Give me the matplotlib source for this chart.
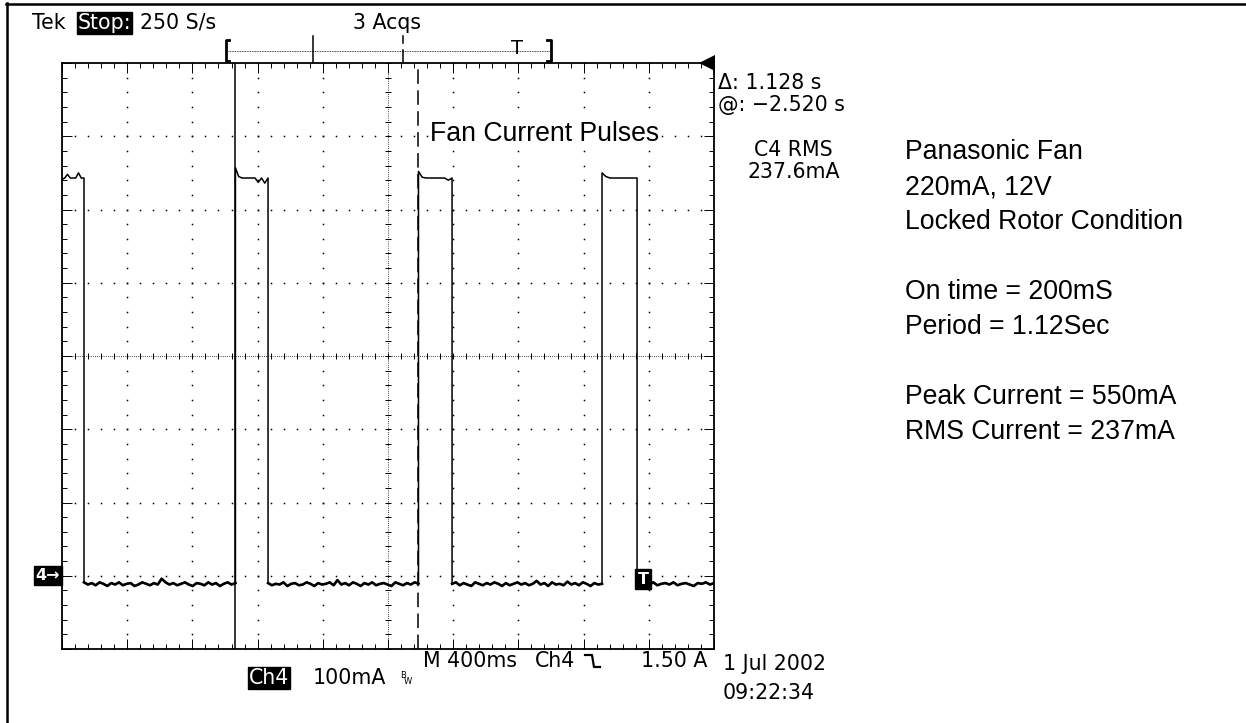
import matplotlib
matplotlib.use("Agg")
import matplotlib.pyplot as plt
import numpy as np

# pulse edges, seconds from the left edge of the screen (400 ms/div, 10 div)
fall_t = [0.135, 1.264, 2.393, 3.528]
rise_t = [1.064, 2.187, 3.313]
screen_end = 4.0

# high part of each pulse in mA (first pulse starts off screen)
high_vals = [
    [541, 543, 548, 543, 543, 543, 550, 543, 543],
    [557, 545, 543, 543, 543, 543, 543, 537, 543, 536, 543],
    [552, 544, 543, 543, 543, 543, 543, 543, 540, 543],
    [550, 545, 543, 543, 543, 543, 543, 543, 543, 543],
]

# noisy off level between pulses in mA
low_vals = [
    [-9, -12, -10, -13, -9, -11, -14, -10, -12, -9, -13, -11, -10, -14, -12, -9,
     -11, -13, -10, -12, -4, -9, -12, -10, -13, -11, -9, -12, -14, -10, -11, -13,
     -9, -12, -10, -14, -11, -9, -12, -10],
    [-10, -13, -11, -12, -9, -14, -11, -10, -13, -12, -9, -11, -14, -10, -12, -11,
     -9, -13, -6, -12, -10, -13, -9, -11, -14, -10, -12, -9, -13, -11, -10, -12,
     -14, -9, -11, -13, -10, -12, -9, -11],
    [-11, -9, -13, -10, -12, -14, -9, -11, -13, -10, -12, -9, -11, -14, -10, -13,
     -11, -9, -12, -10, -13, -11, -7, -12, -10, -14, -9, -12, -11, -13, -8, -12,
     -10, -13, -9, -11, -14, -10, -12, -11],
    [-12, -14, -10, -12, -9, -13, -11, -10, -12, -9, -13, -11, -10, -12, -14, -10,
     -11, -9, -12, -10],
]

cursor_t = [1.064, 2.184]

header = "250 S/s"
acqs = "3 Acqs"
delta_txt = "Δ: 1.128 s"
at_txt = "@: −2.520 s"
meas_txt = ["C4 RMS", "237.6mA"]
scale_txt = "100mA"
time_txt = "M 400ms"
trig_src = "Ch4"
trig_txt = "1.50 A"
date_txt = ["1 Jul 2002", "09:22:34"]
title_txt = "Fan Current Pulses"
notes = ["Panasonic Fan", "220mA, 12V", "Locked Rotor Condition", "",
         "On time = 200mS", "Period = 1.12Sec", "",
         "Peak Current = 550mA", "RMS Current = 237mA"]

W, H = 1246, 723
fig = plt.figure(figsize=(W / 100, H / 100), dpi=100)
fig.patch.set_facecolor("white")

# scope screen (graticule)
gx0, gx1, gy0, gy1 = 62, 714, 63, 649
ax = fig.add_axes([gx0 / W, 1 - gy1 / H, (gx1 - gx0) / W, (gy1 - gy0) / H])
ax.set_xlim(0, 4.0)
ax.set_ylim(-100, 700)
for s in ax.spines.values():
    s.set_linewidth(1.3)
ax.set_xticks(np.arange(0, 4.01, 0.4))
ax.set_xticks(np.arange(0, 4.01, 0.08), minor=True)
ax.set_yticks(np.arange(-100, 701, 100))
ax.set_yticks(np.arange(-100, 701, 20), minor=True)
ax.tick_params(which="both", direction="in", top=True, right=True,
               labelbottom=False, labelleft=False, width=0.7, color="k")
ax.tick_params(which="major", length=7)
ax.tick_params(which="minor", length=3.5)

xmin_ = np.arange(0, 4.01, 0.08)
ymin_ = np.arange(-100, 701, 20)
# dotted major grid lines
for k in range(1, 10):
    if k == 5:
        continue
    ax.plot(np.full(len(ymin_), 0.4 * k), ymin_, ls="none", marker="s", ms=1.1,
            mew=0, color="k")
for k in range(1, 8):
    if k == 4:
        continue
    ax.plot(xmin_, np.full(len(xmin_), -100 + 100 * k), ls="none", marker="s",
            ms=1.1, mew=0, color="k")
# centre cross lines with minor ticks
ax.axvline(2.0, color="k", lw=0.6, ls=(0, (1, 1.6)))
ax.axhline(300, color="k", lw=0.6, ls=(0, (1, 1.6)))
ax.plot(np.full(len(ymin_), 2.0), ymin_, ls="none", marker="_", ms=4.5, mew=0.7,
        color="k")
ax.plot(xmin_, np.full(len(xmin_), 300), ls="none", marker="|", ms=4.5, mew=0.7,
        color="k")

# build the trace from the segments
t_all, v_all = [], []
starts_high = [0.0] + rise_t
starts_low = fall_t
ends_low = rise_t + [screen_end]
for i in range(4):
    hv = high_vals[i]
    t_all += list(np.linspace(starts_high[i], fall_t[i], len(hv)))
    v_all += hv
    lv = low_vals[i]
    tl = np.linspace(starts_low[i], ends_low[i], len(lv))
    t_all += list(tl)
    v_all += lv
    # the noisy off level shows as a heavier band on the screen
    ax.plot(tl, lv, color="k", lw=1.9, zorder=5)
ax.plot(t_all, v_all, color="k", lw=1.1, zorder=5)

# cursors
ax.axvline(cursor_t[0], color="k", lw=1.1, zorder=4)
ax.axvline(cursor_t[1], color="k", lw=1.1, ls=(0, (9.5, 4.2)), zorder=4)

# ground marker and trigger marker
ax.text(-0.003, 0, "4→", transform=ax.get_yaxis_transform(), ha="right",
        va="center", color="white", fontsize=11.5, fontweight="bold",
        family="DejaVu Sans",
        bbox=dict(boxstyle="square,pad=0.12", fc="black", ec="black"),
        clip_on=False)
ax.text(fall_t[3] + 0.004, v_all[-len(low_vals[3])] - 3, "T", ha="left",
        va="bottom", color="white", fontsize=11.5, fontweight="bold",
        family="DejaVu Sans",
        bbox=dict(boxstyle="square,pad=0.15", fc="black", ec="black"), zorder=6)
ax.plot([0.989], [1.0], marker="<", ms=11, color="k", mew=0,
        transform=ax.transAxes, clip_on=False)

# overlay in pixel units for all the read-out text
ov = fig.add_axes([0, 0, 1, 1], zorder=10)
ov.set_xlim(0, W)
ov.set_ylim(H, 0)
ov.set_axis_off()
ov.patch.set_alpha(0)

ov.plot([7, 7], [3, H], color="k", lw=1.8)
ov.plot([6, W], [4, 4], color="k", lw=1.8)

ro = dict(family="DejaVu Sans", fontsize=14.8, color="k", va="center")
ov.text(32, 23, "Tek", ha="left", **ro)
ov.text(78, 23, "Stop:", ha="left", color="white", family="DejaVu Sans",
        fontsize=14.8, va="center",
        bbox=dict(boxstyle="square,pad=0.04", fc="black", ec="black"))
ov.text(140, 23, header, ha="left", **ro)
ov.text(387, 23, acqs, ha="center", **ro)

# record view bar
ov.plot([228, 549], [50.5, 50.5], color="k", lw=0.6, ls=(0, (1, 1)))
ov.plot([229, 225.5, 225.5, 229], [40, 40, 61, 61], color="k", lw=2.0)
ov.plot([547, 550.5, 550.5, 547], [40, 40, 61, 61], color="k", lw=2.0)
ov.plot([313, 313], [36, 62], color="k", lw=1.1)
ov.plot([403, 403], [36, 43], color="k", lw=1.1)
ov.plot([403, 403], [50, 62], color="k", lw=1.1)
ov.text(517, 49, "T", ha="center", family="DejaVu Sans", fontsize=14,
        va="center")

ov.text(718, 83, delta_txt, ha="left", **ro)
ov.text(718, 105, at_txt, ha="left", **ro)
ov.text(793, 150, meas_txt[0], ha="center", **ro)
ov.text(794, 172, meas_txt[1], ha="center", **ro)

ov.text(430, 134, title_txt, ha="left", va="center", family="Liberation Sans",
        fontsize=19.2, color="k",
        bbox=dict(boxstyle="square,pad=0.05", fc="white", ec="none"))

for i, line in enumerate(notes):
    if line:
        ov.text(905, 152 + 35 * i, line, ha="left", va="center",
                family="Liberation Sans", fontsize=19.2, color="k")

# bottom read-outs
ov.text(423, 661, time_txt, ha="left", **ro)
ov.text(535, 661, trig_src, ha="left", **ro)
ov.plot([585, 592, 594, 600], [655, 655, 667, 667], color="k", lw=1.6)
ov.text(707, 661, trig_txt, ha="right", **ro)
ov.text(723, 664, date_txt[0], ha="left", **ro)
ov.text(723, 693, date_txt[1], ha="left", **ro)
ov.text(249, 678, "Ch4", ha="left", color="white", family="DejaVu Sans",
        fontsize=14.8, va="center",
        bbox=dict(boxstyle="square,pad=0.04", fc="black", ec="black"))
ov.text(313, 678, scale_txt, ha="left", **ro)
ov.text(400, 676, "B", ha="left", family="DejaVu Sans", fontsize=6, va="center")
ov.text(404, 682, "W", ha="left", family="DejaVu Sans", fontsize=6, va="center")

fig.savefig("out.png", dpi=100, facecolor="white")
